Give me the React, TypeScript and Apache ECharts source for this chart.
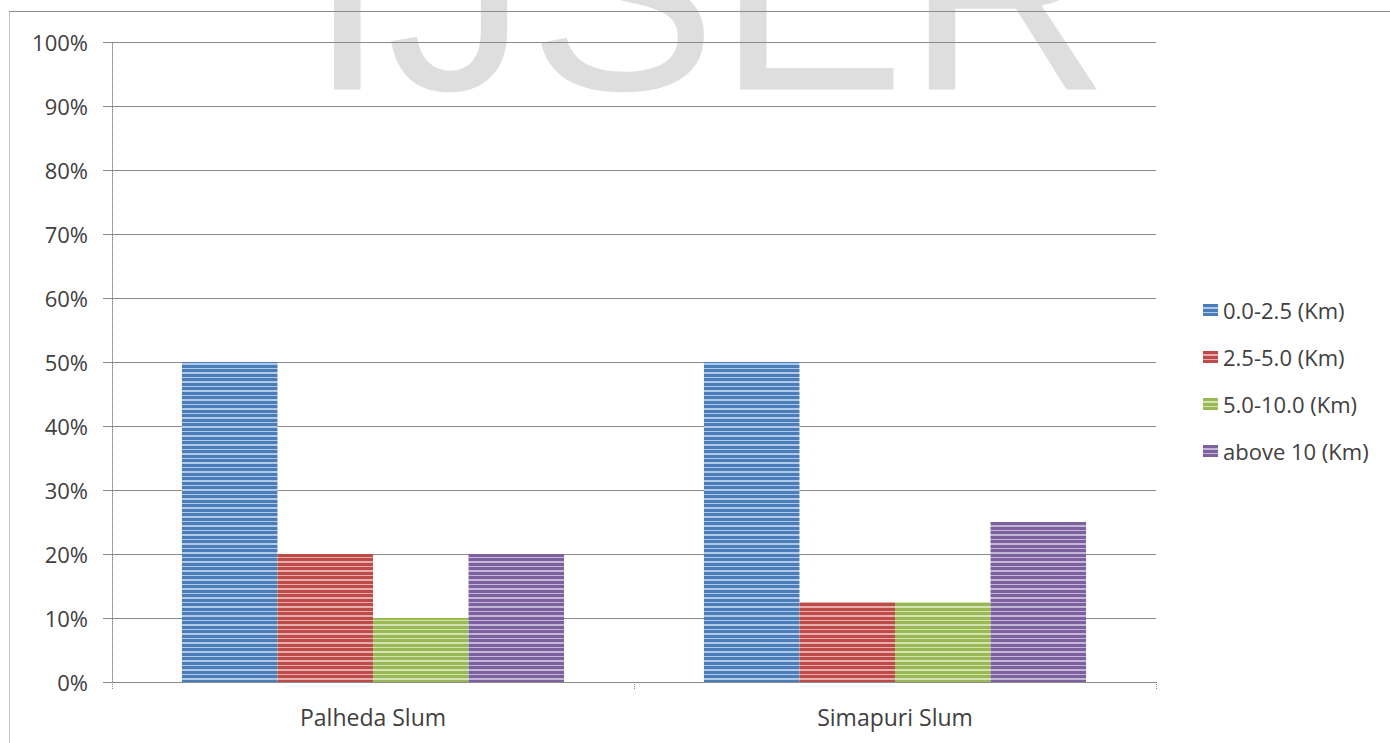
import React, { useEffect, useRef } from "react";
import * as echarts from "echarts";

// Categories and series (percent of households by distance band)
const categories = ["Palheda Slum", "Simapuri Slum"];
const seriesNames = ["0.0-2.5 (Km)", "2.5-5.0 (Km)", "5.0-10.0 (Km)", "above 10 (Km)"];
const band0to2_5 = [50, 50];
const band2_5to5 = [20, 12.5];
const band5to10 = [10, 12.5];
const bandAbove10 = [20, 25];
const seriesValues = [band0to2_5, band2_5to5, band5to10, bandAbove10];
const yTicks = [0, 10, 20, 30, 40, 50, 60, 70, 80, 90, 100];

// dark / light stripe colours for each series
const stripeColors: [string, string][] = [
  ["#4a7ebb", "#b3c8e3"],
  ["#be4b48", "#e3aeac"],
  ["#98b954", "#d3e3b4"],
  ["#7d60a0", "#c4b7d6"],
];

function makeStripes(dark: string, light: string) {
  const c = document.createElement("canvas");
  c.width = 4;
  c.height = 9;
  const ctx = c.getContext("2d")!;
  ctx.fillStyle = dark;
  ctx.fillRect(0, 0, 4, 9);
  ctx.fillStyle = light;
  ctx.fillRect(0, 3, 4, 2);
  ctx.fillRect(0, 8, 4, 1);
  return { image: c, repeat: "repeat", imageWidth: 4, imageHeight: 9 };
}

const FONT = "'Open Sans', 'Noto Sans', sans-serif";

export default function App() {
  const ref = useRef<HTMLDivElement>(null);

  useEffect(() => {
    if (!ref.current) return;
    const chart = echarts.init(ref.current, undefined, { renderer: "svg" });

    const series = seriesNames.map((name, i) => ({
      name,
      type: "bar",
      data: seriesValues[i],
      barGap: "0%",
      barCategoryGap: "26.8%",
      itemStyle: { color: makeStripes(stripeColors[i][0], stripeColors[i][1]) as any },
    }));

    chart.setOption({
      animation: false,
      backgroundColor: "#ffffff",
      graphic: [
        {
          type: "text",
          z: -10,
          zlevel: 0,
          silent: true,
          x: 308,
          y: 133,
          style: {
            text: "IJSER",
            font: "283px 'Liberation Sans', Arial, sans-serif",
            fill: "#dedede",
            verticalAlign: "bottom",
          },
        },
        {
          type: "line",
          silent: true,
          shape: { x1: 9, y1: 11.5, x2: 1390, y2: 11.5 },
          style: { stroke: "#8a8a8a", lineWidth: 1 },
        },
        {
          type: "line",
          silent: true,
          shape: { x1: 9.5, y1: 11.5, x2: 9.5, y2: 743 },
          style: { stroke: "#8a8a8a", lineWidth: 1, lineDash: [1, 1] },
        },
      ],
      grid: { left: 112, right: 234, top: 42, bottom: 61, containLabel: false },
      legend: {
        orient: "vertical",
        left: 1198,
        top: 293,
        itemWidth: 15,
        itemHeight: 12,
        itemGap: 23,
        icon: "rect",
        textStyle: { fontFamily: FONT, fontSize: 22, color: "#404040", lineHeight: 24 },
        data: seriesNames,
      },
      xAxis: {
        type: "category",
        data: categories,
        axisLine: { lineStyle: { color: "#8a8a8a", width: 1 } },
        axisTick: { show: true, length: 8, lineStyle: { color: "#8a8a8a", type: [1, 1] } },
        axisLabel: { fontFamily: FONT, fontSize: 23, color: "#404040", margin: 23 },
      },
      yAxis: {
        type: "value",
        min: 0,
        max: 100,
        interval: 10,
        axisLine: { show: true, lineStyle: { color: "#8a8a8a", width: 1, type: [1, 1] } },
        axisTick: { show: true, length: 9, lineStyle: { color: "#8a8a8a" } },
        splitLine: { lineStyle: { color: "#8a8a8a", width: 1 } },
        axisLabel: {
          fontFamily: FONT,
          fontSize: 22,
          color: "#404040",
          margin: 24,
          formatter: (v: number) => (yTicks.includes(v) ? `${v}%` : ""),
        },
      },
      series,
    } as any);

    return () => chart.dispose();
  }, []);

  return <div ref={ref} style={{ width: 1390, height: 743, position: "absolute", left: 0, top: 0 }} />;
}
